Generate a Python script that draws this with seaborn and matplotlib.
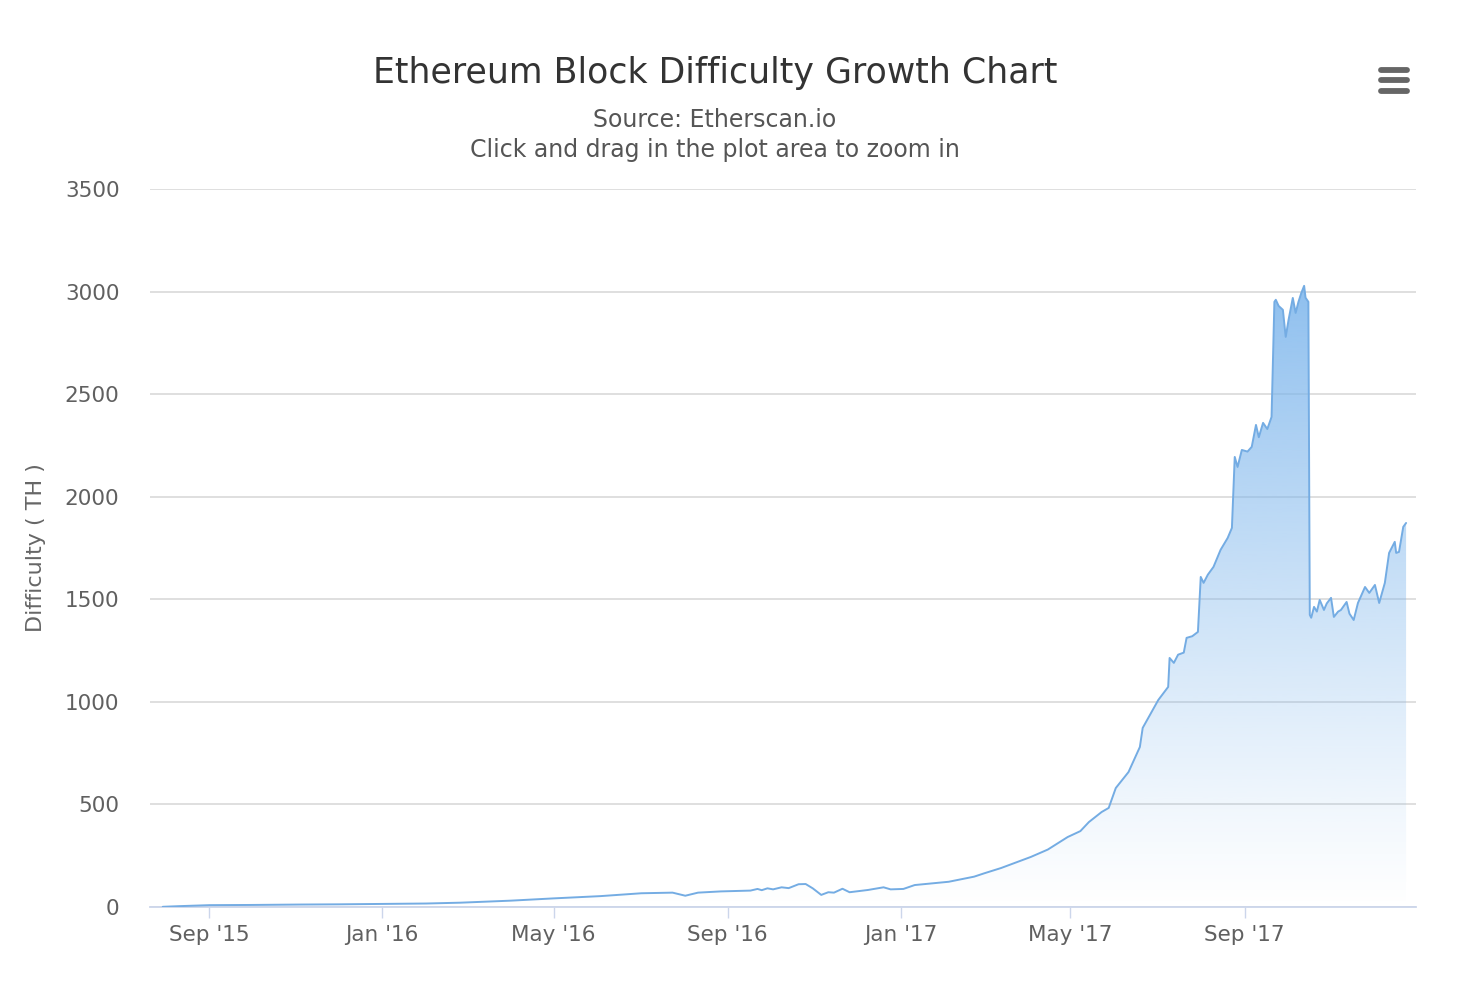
import matplotlib
matplotlib.use("Agg")
import matplotlib.pyplot as plt
import matplotlib.dates as mdates
from matplotlib.lines import Line2D
import numpy as np
import pandas as pd
import seaborn as sns

# Datos (fecha, dificultad en TH)
fechas = [
    "2015-07-30", "2015-08-10", "2015-09-01", "2015-10-01", "2015-11-04",
    "2015-12-01", "2016-01-01", "2016-02-01", "2016-02-25", "2016-04-01",
    "2016-05-01", "2016-06-03", "2016-07-02", "2016-07-24", "2016-08-02",
    "2016-08-11", "2016-08-27", "2016-09-17", "2016-09-22", "2016-09-25",
    "2016-09-29", "2016-10-03", "2016-10-09", "2016-10-14", "2016-10-21",
    "2016-10-26", "2016-10-31", "2016-11-06", "2016-11-11", "2016-11-15",
    "2016-11-21", "2016-11-26", "2016-12-09", "2016-12-20", "2016-12-25",
    "2017-01-03", "2017-01-11", "2017-02-04", "2017-02-22", "2017-03-01",
    "2017-03-13", "2017-04-03", "2017-04-15", "2017-04-29", "2017-05-08",
    "2017-05-14", "2017-05-23", "2017-05-28", "2017-06-02", "2017-06-11",
    "2017-06-19", "2017-06-21", "2017-07-02", "2017-07-09", "2017-07-10",
    "2017-07-13", "2017-07-16", "2017-07-20", "2017-07-22", "2017-07-26",
    "2017-07-30", "2017-08-01", "2017-08-03", "2017-08-06", "2017-08-10",
    "2017-08-15", "2017-08-20", "2017-08-23", "2017-08-25", "2017-08-27",
    "2017-08-30", "2017-09-03", "2017-09-06", "2017-09-09", "2017-09-11",
    "2017-09-14", "2017-09-17", "2017-09-20", "2017-09-22", "2017-09-23",
    "2017-09-25", "2017-09-28", "2017-09-30", "2017-10-02", "2017-10-05",
    "2017-10-07", "2017-10-09", "2017-10-11", "2017-10-13", "2017-10-14",
    "2017-10-15", "2017-10-16", "2017-10-17", "2017-10-18", "2017-10-20",
    "2017-10-22", "2017-10-24", "2017-10-27", "2017-10-29", "2017-11-01",
    "2017-11-03", "2017-11-06", "2017-11-08", "2017-11-12", "2017-11-14",
    "2017-11-17", "2017-11-20", "2017-11-25", "2017-11-28", "2017-12-02",
    "2017-12-05", "2017-12-09", "2017-12-12", "2017-12-16", "2017-12-17",
    "2017-12-19", "2017-12-22", "2017-12-24",
]
dificultad = [
    1, 4, 9, 10, 12,
    13, 15, 17, 21, 31,
    42, 53, 67, 70, 55,
    70, 76, 80, 88, 82,
    91, 86, 96, 92, 111,
    112, 91, 59, 72, 70,
    89, 72, 83, 96, 86,
    88, 107, 123, 148, 164,
    190, 244, 280, 341, 370,
    414, 463, 483, 580, 658,
    780, 873, 1009, 1073, 1214,
    1190, 1230, 1240, 1312, 1320,
    1341, 1609, 1580, 1620, 1658,
    1741, 1799, 1848, 2194, 2145,
    2228, 2220, 2243, 2350, 2290,
    2360, 2330, 2389, 2950, 2960,
    2930, 2911, 2779, 2862, 2969,
    2896, 2950, 2993, 3028, 2970,
    2960, 2950, 1424, 1410, 1463,
    1440, 1497, 1448, 1480, 1507,
    1414, 1440, 1448, 1487, 1430,
    1399, 1482, 1560, 1531, 1570,
    1482, 1580, 1726, 1780, 1726,
    1731, 1853, 1872,
]

df = pd.DataFrame({"fecha": pd.to_datetime(fechas), "dificultad": dificultad})

colorLinea = "#7cb5ec"

sns.set_theme(style="white")
plt.rcParams["font.family"] = ["DejaVu Sans"]

fig = plt.figure(figsize=(14.72, 9.92), dpi=100)
ax = fig.add_axes([150 / 1472, 85 / 992, 1266 / 1472, 718 / 992])

# relleno con degradado (de azul arriba a transparente abajo)
xmin = pd.Timestamp("2015-07-21")
xmax = pd.Timestamp("2017-12-31")
ymax = 3500
relleno = ax.fill_between(df["fecha"], df["dificultad"], 0, facecolor="none", edgecolor="none")
grad = np.zeros((256, 1, 4))
r, g, b = matplotlib.colors.to_rgb(colorLinea)
grad[:, 0, 0] = r
grad[:, 0, 1] = g
grad[:, 0, 2] = b
grad[:, 0, 3] = np.linspace(0.0, 1.0, 256) ** 1.1
im = ax.imshow(grad, extent=[mdates.date2num(xmin), mdates.date2num(xmax), 0, ymax],
               origin="lower", aspect="auto", zorder=1)
im.set_clip_path(relleno.get_paths()[0], transform=ax.transData)

sns.lineplot(data=df, x="fecha", y="dificultad", ax=ax, color="#74ace3", linewidth=1.4, zorder=3)

ax.set_xlim(xmin, xmax)
ax.set_ylim(0, ymax)

# ejes y grilla
ax.set_yticks(np.arange(0, 3501, 500))
ax.grid(axis="y", color="#dcdcdc", linewidth=1.3)
ax.grid(axis="x", visible=False)
ax.set_axisbelow(True)
for lado in ["top", "right", "left"]:
    ax.spines[lado].set_visible(False)
ax.spines["bottom"].set_color("#ccd6eb")
ax.spines["bottom"].set_linewidth(1.3)

ax.xaxis.set_major_locator(mdates.MonthLocator(bymonth=[1, 5, 9]))
ax.xaxis.set_major_formatter(mdates.DateFormatter("%b '%y"))
ax.tick_params(axis="x", length=8, width=1, color="#ccd6eb", pad=5,
               labelsize=15.5, labelcolor="#606060", bottom=True, direction="out")
ax.tick_params(axis="y", length=0, pad=22, labelsize=15.5, labelcolor="#606060")

ax.set_xlabel("")
ax.set_ylabel("Difficulty ( TH )", fontsize=16, color="#666666")
ax.yaxis.set_label_coords(-0.082, 0.5)

# titulos
fig.text(715 / 1472, 1 - 73 / 992, "Ethereum Block Difficulty Growth Chart",
         ha="center", va="center", fontsize=25, color="#333333")
fig.text(715 / 1472, 1 - 120 / 992, "Source: Etherscan.io",
         ha="center", va="center", fontsize=17, color="#555555")
fig.text(715 / 1472, 1 - 150 / 992, "Click and drag in the plot area to zoom in",
         ha="center", va="center", fontsize=17, color="#555555")

# icono de menu
for yp in [70, 80, 91]:
    fig.add_artist(Line2D([1381 / 1472, 1407 / 1472], [1 - yp / 992, 1 - yp / 992],
                          color="#666666", linewidth=4.2, solid_capstyle="round"))

fig.savefig("out.png", dpi=100, facecolor="white")
